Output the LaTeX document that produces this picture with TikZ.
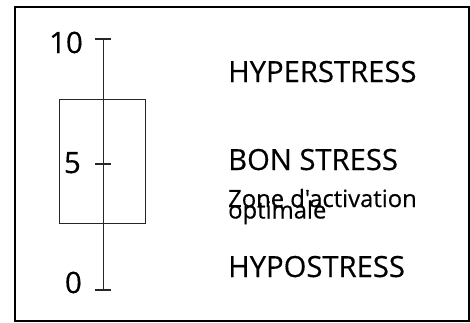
\documentclass[tikz,border=0pt]{standalone}
\usepackage{fontspec}
\newfontfamily\osfont{Open Sans}[FakeBold=0.4]
\begin{document}
\begin{tikzpicture}[x=1pt,y=-1pt,
  big/.style={font=\osfont\fontsize{29.2}{30}\selectfont, inner sep=0pt},
  small/.style={font=\osfont\fontsize{23.8}{24}\selectfont, inner sep=0pt},
  num/.style={font=\osfont\fontsize{29.4}{30}\selectfont, inner sep=0pt},
  axis/.style={line width=1.2pt, draw=black!85},
  zonebox/.style={draw=black!85, line width=1pt, inner sep=0pt, minimum width=85.5pt, minimum height=123.5pt}]
\useasboundingbox (0,0) rectangle (470,322);
\draw[line width=2pt] (15,7) rectangle (468.5,320.5);
\coordinate (top) at (103.3,39);
\coordinate (mid) at (103.3,164);
\coordinate (bot) at (103.3,290);
\node[zonebox] (box) at (102.25,161.25) {};
\draw[axis] (top) -- (bot);
\draw[axis] ([xshift=-8.5pt]top) -- ([xshift=8pt]top);
\draw[axis] ([xshift=-8.5pt]mid) -- ([xshift=8pt]mid);
\draw[axis] ([xshift=-8.5pt]bot) -- ([xshift=8pt]bot);
\node[num, anchor=base east] (n10) at (83,53) {10};
\node[num, anchor=base east] (n5) at (81,173) {5};
\node[num, anchor=base east] (n0) at (82,293) {0};
\node[big, anchor=base west] (hyper) at (228,82) {HYPERSTRESS};
\node[big, anchor=base west] (bon) at (228,170) {BON STRESS};
\node[small, anchor=base west] (zone1) at (228,207) {Zone d'activation};
\node[small, anchor=base west] (zone2) at (228,218.5) {optimale};
\node[big, anchor=base west] (hypo) at (228,277) {HYPOSTRESS};
\end{tikzpicture}
\end{document}
